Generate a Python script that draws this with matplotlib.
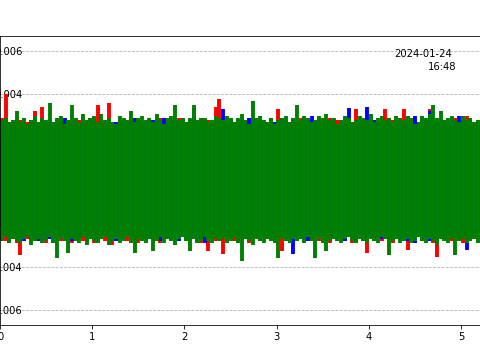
import numpy as np
import matplotlib
matplotlib.use("Agg")
import matplotlib.pyplot as plt

# peak values per 0.04 s window, in units of 1e-3
green_hi = [2.8, 2.9, 2.7, 2.8, 3.2, 2.7, 2.9, 2.6, 2.8, 3.0,
            2.7, 2.9, 2.8, 3.6, 2.7, 2.9, 3.0, 2.6, 2.8, 3.5,
            2.9, 2.7, 3.1, 2.8, 2.9, 3.0, 2.7, 3.1, 2.8, 2.9,
            2.7, 2.6, 3.0, 2.9, 2.8, 3.2, 2.7, 2.9, 3.0, 2.8,
            2.9, 2.7, 3.1, 2.8, 2.6, 2.9, 3.0, 3.5, 2.8, 2.9,
            2.7, 2.9, 3.5, 2.8, 2.9, 2.9, 2.7, 2.8, 3.0, 2.9,
            2.8, 3.0, 2.9, 2.7, 2.9, 3.1, 2.8, 2.6, 3.7, 2.9,
            3.0, 2.8, 2.7, 2.9, 2.6, 2.8, 2.9, 3.0, 2.7, 2.9,
            3.5, 2.8, 3.0, 2.9, 2.7, 2.8, 3.0, 2.9, 3.1, 2.8,
            2.9, 2.6, 2.8, 3.0, 2.9, 2.7, 2.8, 3.0, 2.9, 2.8,
            3.1, 2.7, 2.9, 3.0, 2.8, 2.9, 2.7, 3.0, 2.9, 2.8,
            3.0, 2.9, 2.6, 2.7, 3.0, 2.9, 3.1, 3.5, 2.9, 3.2,
            2.8, 2.9, 3.0, 2.8, 2.7, 3.0, 2.8, 2.9, 2.7, 2.8]
green_lo = [-2.8, -2.6, -2.9, -2.7, -2.8, -2.9, -2.7, -2.6, -3.0, -2.8,
            -2.7, -2.9, -2.8, -2.6, -2.9, -3.6, -2.7, -2.8, -3.35, -2.7,
            -2.8, -2.9, -2.6, -3.0, -2.7, -2.8, -2.9, -2.7, -2.6, -3.0,
            -2.8, -2.7, -2.9, -2.8, -2.6, -2.9, -3.35, -2.7, -2.8, -2.9,
            -2.7, -3.25, -2.8, -2.6, -2.9, -2.7, -2.8, -3.0, -2.7, -2.6,
            -2.8, -3.25, -2.7, -2.9, -2.8, -2.6, -2.8, -2.9, -2.7, -2.8,
            -2.7, -2.9, -2.8, -2.6, -2.9, -3.75, -2.7, -2.8, -3.0, -2.7,
            -2.8, -2.9, -2.7, -2.8, -2.9, -3.6, -2.7, -2.8, -2.9, -2.7,
            -2.8, -2.7, -2.9, -2.6, -2.8, -3.6, -2.7, -2.9, -3.25, -2.8,
            -2.7, -2.8, -2.9, -2.7, -2.6, -2.8, -2.9, -2.7, -2.8, -2.9,
            -2.7, -2.8, -2.9, -2.6, -2.7, -3.45, -2.8, -2.7, -2.9, -2.8,
            -2.7, -2.9, -2.8, -2.6, -2.8, -2.9, -2.7, -2.8, -3.0, -2.7,
            -2.8, -2.9, -2.7, -3.45, -2.8, -2.7, -2.9, -2.8, -2.7, -2.9]
red_hi = [2.9, 4.0, 2.5, 2.7, 2.6, 2.8, 2.5, 2.7, 2.6, 3.2,
          2.7, 3.4, 2.6, 2.8, 2.5, 2.7, 2.9, 2.6, 2.8, 2.7,
          2.6, 2.8, 2.7, 2.5, 2.9, 2.6, 3.5, 2.7, 2.6, 3.6,
          2.7, 2.5, 2.8, 2.6, 2.7, 2.9, 2.6, 2.8, 2.7, 2.5,
          2.8, 2.6, 2.7, 2.9, 2.5, 2.7, 2.8, 2.6, 2.9, 2.7,
          2.6, 2.8, 2.7, 2.6, 2.9, 2.7, 2.8, 2.6, 3.4, 3.8,
          2.7, 2.6, 2.8, 2.7, 2.5, 2.8, 2.6, 2.7, 2.9, 2.6,
          2.8, 2.7, 2.6, 2.9, 2.7, 3.3, 2.6, 2.8, 2.7, 2.6,
          2.7, 2.9, 2.6, 2.8, 2.5, 2.7, 2.8, 2.6, 2.7, 2.9,
          2.6, 2.8, 2.7, 2.5, 2.8, 2.7, 3.3, 2.6, 2.8, 2.7,
          2.6, 2.8, 2.7, 2.6, 3.3, 2.7, 2.8, 2.6, 2.7, 3.3,
          2.7, 2.6, 2.8, 2.7, 2.9, 2.6, 3.3, 2.8, 2.6, 2.7,
          2.8, 2.6, 2.7, 2.9, 2.6, 2.8, 3.0, 2.7, 2.6, 2.8]
red_lo = [-2.6, -2.8, -2.5, -2.7, -2.9, -3.45, -2.6, -2.7, -2.5, -2.8,
          -2.6, -2.7, -2.9, -2.5, -2.7, -2.6, -2.8, -2.5, -2.7, -2.9,
          -2.7, -2.5, -2.8, -2.6, -2.7, -2.9, -2.5, -2.7, -2.8, -2.6,
          -3.0, -2.6, -2.7, -2.5, -2.8, -2.6, -2.7, -2.9, -2.5, -2.7,
          -2.6, -2.8, -2.5, -2.9, -2.7, -2.6, -2.8, -2.5, -2.7, -2.6,
          -2.8, -2.6, -2.7, -2.5, -2.9, -2.7, -3.25, -2.6, -2.8, -2.7,
          -3.4, -2.6, -2.7, -2.8, -2.5, -2.7, -2.6, -2.9, -2.7, -2.5,
          -2.8, -2.6, -2.7, -2.5, -2.8, -2.6, -3.25, -2.7, -2.6, -2.8,
          -2.5, -2.7, -2.9, -2.6, -2.7, -2.5, -2.8, -2.6, -2.7, -2.9,
          -2.6, -2.7, -2.5, -2.8, -2.6, -2.9, -2.7, -2.5, -2.8, -3.35,
          -2.6, -2.7, -2.5, -2.8, -2.6, -2.7, -2.9, -2.5, -2.7, -2.6,
          -3.2, -2.6, -2.7, -2.5, -2.8, -2.6, -2.7, -2.9, -3.55, -2.6,
          -2.7, -2.5, -2.8, -2.6, -2.7, -2.9, -2.6, -2.7, -2.5, -2.8]
blue_hi = [2.5, 2.7, 2.6, 2.4, 2.8, 2.6, 2.7, 2.5, 2.8, 2.6,
           2.7, 2.5, 2.6, 2.8, 2.7, 2.5, 2.6, 2.9, 2.7, 2.6,
           2.8, 2.6, 2.5, 2.7, 2.6, 2.9, 2.7, 2.5, 2.6, 2.8,
           2.6, 2.7, 2.5, 2.8, 2.6, 2.7, 2.9, 2.6, 2.5, 2.7,
           2.6, 2.8, 2.7, 2.5, 2.9, 2.6, 2.7, 2.8, 2.6, 2.5,
           2.7, 2.6, 3.35, 2.7, 2.5, 2.8, 2.6, 2.7, 2.5, 2.8,
           3.3, 2.6, 2.7, 2.5, 2.8, 2.6, 2.7, 2.9, 2.6, 2.5,
           2.7, 2.8, 2.6, 2.5, 2.7, 2.6, 2.9, 2.7, 2.5, 2.8,
           2.6, 2.7, 2.5, 2.8, 3.0, 2.6, 2.7, 2.5, 2.8, 2.6,
           2.7, 2.5, 2.8, 2.6, 3.35, 2.7, 2.6, 2.8, 2.5, 3.4,
           2.6, 2.8, 2.7, 2.5, 2.6, 2.9, 2.7, 2.6, 2.8, 2.5,
           2.7, 2.6, 3.0, 2.5, 2.7, 2.8, 3.2, 2.6, 2.7, 2.5,
           2.8, 2.6, 2.7, 2.5, 3.0, 2.7, 2.6, 2.8, 2.5, 2.7]
blue_lo = [-2.7, -2.5, -2.9, -2.6, -2.7, -2.5, -2.8, -2.6, -2.7, -2.5,
           -2.8, -2.6, -2.5, -2.7, -2.9, -2.6, -2.7, -2.5, -2.6, -2.8,
           -2.5, -2.7, -2.6, -2.8, -2.5, -2.7, -2.9, -2.6, -2.5, -2.7,
           -2.6, -2.8, -2.5, -2.7, -2.6, -2.5, -2.8, -2.6, -2.7, -2.5,
           -2.7, -2.5, -2.6, -2.8, -2.5, -2.7, -2.6, -2.5, -2.8, -2.6,
           -2.5, -2.7, -2.6, -2.8, -2.5, -2.9, -2.6, -2.7, -2.5, -2.8,
           -2.6, -2.5, -2.7, -2.6, -2.8, -2.5, -2.7, -2.6, -2.5, -2.7,
           -2.8, -2.6, -2.5, -2.7, -2.6, -2.8, -2.5, -2.7, -2.6, -3.4,
           -2.6, -2.5, -2.7, -2.8, -2.6, -2.5, -2.7, -2.6, -2.8, -2.5,
           -2.7, -2.6, -2.5, -2.8, -2.6, -2.7, -2.9, -2.5, -2.6, -2.7,
           -2.5, -2.8, -2.6, -2.7, -2.5, -2.6, -2.8, -2.7, -2.5, -2.6,
           -2.8, -2.6, -2.9, -2.5, -2.7, -2.6, -2.8, -2.5, -2.7, -2.6,
           -2.5, -2.7, -2.6, -2.8, -2.5, -2.7, -3.2, -2.6, -2.7, -2.5]

win = 0.04  # seconds per envelope window
stamp_date = "2024-01-24"
stamp_time = "16:48"

t = win / 2 + win * np.arange(len(green_hi))

fig = plt.figure(figsize=(480 / 72, 360 / 72), dpi=72)
ax = fig.add_axes([0.0, 35 / 360, 1.02, 289 / 360])

px = 480 / 5.2 * win  # bar width in points at 72 dpi
for hi, lo, col in [(red_hi, red_lo, "red"), (blue_hi, blue_lo, "blue"),
                    (green_hi, green_lo, "green")]:
    ax.vlines(t, np.array(lo) * 1e-3, np.array(hi) * 1e-3, color=col,
              linewidth=px + 0.2, zorder=2)

ax.set_xlim(0, 1.02 * 480 / 92.2)
ax.set_ylim(-0.0067, 0.0067)
ax.set_xticks([0, 1, 2, 3, 4, 5])
ax.set_yticks([-0.006, -0.004, -0.002, 0, 0.002, 0.004, 0.006])
ax.yaxis.grid(True, linestyle="--", color="#b0b0b0", linewidth=0.8)
ax.tick_params(axis="y", pad=-26.5, labelsize=10)
ax.tick_params(axis="x", labelsize=10)

fig.text(452 / 480, 1 - 49 / 360, stamp_date, ha="right", va="top", fontsize=10)
fig.text(456 / 480, 1 - 62 / 360, stamp_time, ha="right", va="top", fontsize=10)

fig.savefig("out.png", dpi=72)
